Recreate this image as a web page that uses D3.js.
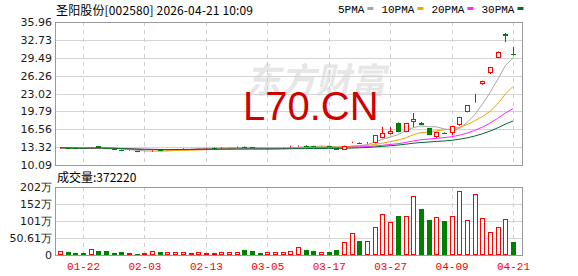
<!DOCTYPE html>
<html lang="zh">
<head>
<meta charset="UTF-8">
<title>圣阳股份 日K</title>
<style>
  body { margin: 0; background: #fff; }
  svg { display: block; }
</style>
</head>
<body>
<script src="https://cdnjs.cloudflare.com/ajax/libs/d3/7.8.5/d3.min.js"></script>
<script>
// trading days shown (MM-DD)
const dates = [
  '01-19','01-20','01-21','01-22','01-23','01-26','01-27','01-28','01-29','01-30',
  '02-02','02-03','02-04','02-05','02-06','02-09','02-10','02-11','02-12','02-13',
  '02-24','02-25','02-26','02-27','03-02','03-03','03-04','03-05','03-06','03-09',
  '03-10','03-11','03-12','03-13','03-16','03-17','03-18','03-19','03-20','03-23',
  '03-24','03-25','03-26','03-27','03-30','03-31','04-01','04-02','04-03','04-07',
  '04-08','04-09','04-10','04-13','04-14','04-15','04-16','04-17','04-20','04-21'
];
const opens = [
  13.15,13.22,13.14,13.10,13.15,13.45,13.15,13.00,12.85,12.55,
  12.55,12.50,12.60,12.72,12.70,12.88,13.00,13.05,13.10,13.12,
  13.25,13.18,13.22,13.30,13.38,13.28,12.88,13.00,13.10,13.15,
  13.30,13.50,13.60,13.55,13.45,13.48,13.00,12.85,13.95,14.10,
  14.05,14.05,14.97,15.70,17.69,16.06,17.87,17.69,16.78,15.15,
  15.95,15.88,17.33,19.68,23.08,24.74,26.73,29.45,33.70,30.17
];
const closes = [
  13.20,13.15,13.10,13.05,13.25,13.18,13.05,12.95,12.62,12.65,
  12.45,12.55,12.70,12.65,12.80,12.95,13.05,13.10,13.15,13.18,
  13.20,13.24,13.28,13.40,13.30,13.15,12.95,13.05,13.15,13.20,
  13.40,13.60,13.55,13.45,13.50,13.40,12.95,13.55,14.10,14.05,
  14.12,15.45,15.88,16.24,16.06,17.69,18.41,17.33,15.52,16.06,
  15.88,17.15,18.77,20.90,23.15,25.30,27.82,30.60,33.40,29.99
];
const highs = [
  13.25,13.25,13.18,13.12,13.30,13.50,13.18,13.05,12.88,12.75,
  12.58,12.60,12.75,12.75,12.85,13.00,13.12,13.15,13.18,13.22,
  13.28,13.28,13.32,13.45,13.42,13.30,13.00,13.10,13.18,13.25,
  13.55,13.65,13.65,13.58,13.55,13.50,13.20,13.60,14.30,14.20,
  14.25,15.50,17.00,16.95,17.80,17.72,19.50,17.87,16.80,16.10,
  16.00,17.20,18.80,20.95,23.15,25.35,27.85,30.65,33.97,31.44
];
const lows = [
  13.10,13.12,13.05,13.00,13.10,13.15,13.00,12.90,12.60,12.45,
  12.40,12.48,12.58,12.60,12.68,12.85,12.95,13.00,13.08,13.10,
  13.15,13.15,13.20,13.28,13.25,13.10,12.85,12.95,13.05,13.12,
  13.25,13.45,13.50,13.40,13.40,13.35,12.80,12.80,13.90,13.95,
  14.00,14.00,14.90,15.60,16.00,16.00,16.96,17.30,15.50,14.97,
  15.70,15.52,17.20,19.60,21.35,24.60,26.55,29.40,32.34,29.90
];
// volume in 万手
const volumes = [
  11.9,8.9,6.0,6.0,16.8,11.9,11.9,6.0,8.9,6.0,
  3.0,6.0,11.9,8.9,8.9,8.9,8.9,6.0,8.9,6.0,
  6.0,8.9,8.9,8.9,14.9,11.9,6.0,8.9,8.9,8.9,
  11.9,22.9,14.9,11.9,8.0,8.9,14.9,37.7,64.5,41.7,
  41.7,82.4,121,99,116,116,175.6,136,104,112,
  101,116,189.6,103,180.7,109,67.6,82.4,106,37.222
];

const priceTicks = [10.09,13.32,16.56,19.79,23.02,26.26,29.49,32.73,35.96];
const volTicks = [0,50.61,101.22,151.83,202.44];
const volTickLabels = ['0','50.61万','101万','152万','202万'];
const xTickLabels = ['01-22','02-03','02-13','03-05','03-17','03-27','04-09','04-21'];

const maPeriods = [5,10,20,30];
const maNames = ['5PMA','10PMA','20PMA','30PMA'];
const maColors = ['#a6a6a6','#f5a000','#ff22ff','#006b2e'];

const red = '#ff0000', green = '#008000';

const width = 578, height = 276;
const left = 55, right = 522;
const kTop = 22, kBottom = 165;
const vTop = 187, vBottom = 255;

const svg = d3.select('body').append('svg')
  .attr('width', width)
  .attr('height', height);

const x = d3.scalePoint().domain(dates).range([60, 513]);
const y = d3.scaleLinear().domain([10.09, 35.96]).range([kBottom, kTop]);
const yv = d3.scaleLinear().domain([0, 202.44]).range([vBottom, vTop]);

const px = v => Math.round(v) + 0.5;

// watermark
svg.append('text')
  .attr('transform', 'translate(246,93) skewX(-12)')
  .attr('font-family', 'Noto Sans CJK SC')
  .attr('font-weight', 'bold')
  .attr('font-size', 35)
  .attr('fill', '#e6e6e6')
  .text('东方财富');

// grid
const grid = svg.append('g');
priceTicks.slice(1, -1).forEach(t => {
  grid.append('line').attr('x1', left).attr('x2', right)
    .attr('y1', px(y(t))).attr('y2', px(y(t)))
    .attr('stroke', '#d4d4d4');
});
volTicks.slice(1, -1).forEach(t => {
  grid.append('line').attr('x1', left).attr('x2', right)
    .attr('y1', px(yv(t))).attr('y2', px(yv(t)))
    .attr('stroke', '#d4d4d4');
});
xTickLabels.forEach(d => {
  [[kTop, kBottom], [vTop, vBottom]].forEach(r => {
    grid.append('line').attr('x1', px(x(d))).attr('x2', px(x(d)))
      .attr('y1', r[0]).attr('y2', r[1])
      .attr('stroke', '#cfcfcf').attr('stroke-dasharray', '4,4');
  });
});

svg.append('text')
  .attr('x', 243).attr('y', 120)
  .attr('font-family', 'Liberation Sans')
  .attr('font-size', 40)
  .attr('fill', '#d10000')
  .text('L70.CN');

// frames
svg.append('rect').attr('x', left + 0.5).attr('y', kTop + 0.5)
  .attr('width', right - left).attr('height', kBottom - kTop)
  .attr('fill', 'none').attr('stroke', '#9a9a9a');
svg.append('rect').attr('x', left + 0.5).attr('y', vTop + 0.5)
  .attr('width', right - left).attr('height', vBottom - vTop)
  .attr('fill', 'none').attr('stroke', '#9a9a9a');

// y axes
const yAxis = svg.append('g')
  .attr('transform', `translate(${left},0)`)
  .call(d3.axisLeft(y).tickValues(priceTicks).tickFormat(d3.format('.2f')).tickSize(0).tickPadding(3));
const vAxis = svg.append('g')
  .attr('transform', `translate(${left},0)`)
  .call(d3.axisLeft(yv).tickValues(volTicks).tickFormat((d, i) => volTickLabels[i]).tickSize(0).tickPadding(3));
[yAxis, vAxis].forEach(g => {
  g.select('.domain').remove();
  g.selectAll('text')
    .attr('font-family', 'DejaVu Sans')
    .attr('font-size', 11)
    .attr('fill', '#1a1a1a');
});

// x axis
const xAxis = svg.append('g')
  .attr('transform', `translate(0,${vBottom})`)
  .call(d3.axisBottom(x).tickValues(xTickLabels).tickSize(0).tickPadding(7));
xAxis.select('.domain').remove();
xAxis.selectAll('text')
  .attr('font-family', 'Liberation Mono')
  .attr('font-size', 11)
  .attr('fill', red);

// moving averages
maPeriods.forEach((n, k) => {
  const ma = closes.map((c, i) => {
    const w = closes.slice(Math.max(0, i - n + 1), i + 1);
    return d3.mean(w);
  });
  svg.append('path')
    .datum(ma)
    .attr('fill', 'none')
    .attr('stroke', maColors[k])
    .attr('stroke-width', 1)
    .attr('d', d3.line().x((d, i) => x(dates[i])).y(d => y(d)));
});

// candles
const candles = svg.append('g');
dates.forEach((d, i) => {
  const cx = px(x(d));
  const o = opens[i], c = closes[i];
  const up = c >= o;
  const col = up ? red : green;
  const top = Math.round(y(Math.max(o, c)));
  const bot = Math.max(Math.round(y(Math.min(o, c))), top + 1);
  candles.append('line').attr('x1', cx).attr('x2', cx)
    .attr('y1', y(highs[i])).attr('y2', top)
    .attr('stroke', col);
  candles.append('line').attr('x1', cx).attr('x2', cx)
    .attr('y1', bot).attr('y2', y(lows[i]))
    .attr('stroke', col);
  if (up) {
    candles.append('rect')
      .attr('x', cx - 2).attr('y', top + 0.5)
      .attr('width', 4).attr('height', Math.max(bot - top - 1, 0))
      .attr('fill', '#fff').attr('stroke', col);
  } else {
    candles.append('rect')
      .attr('x', cx - 2.5).attr('y', top)
      .attr('width', 5).attr('height', Math.max(bot - top, 1))
      .attr('fill', col);
  }
});

// volume bars: colour by close vs previous close
const vols = svg.append('g');
dates.forEach((d, i) => {
  const cx = px(x(d));
  const up = i === 0 ? closes[i] >= opens[i] : closes[i] >= closes[i - 1];
  const top = Math.round(yv(volumes[i]));
  if (up) {
    vols.append('rect')
      .attr('x', cx - 2).attr('y', top + 0.5)
      .attr('width', 4).attr('height', vBottom - top - 1)
      .attr('fill', '#fff').attr('stroke', red);
  } else {
    vols.append('rect')
      .attr('x', cx - 2.5).attr('y', top)
      .attr('width', 5).attr('height', vBottom - top)
      .attr('fill', green);
  }
});

// header
svg.append('text')
  .attr('x', 56).attr('y', 15)
  .attr('font-family', 'Noto Sans CJK SC')
  .attr('font-size', 12)
  .attr('fill', '#000')
  .attr('textLength', 197)
  .text('圣阳股份[002580] 2026-04-21 10:09');

svg.append('text')
  .attr('x', 57).attr('y', 182)
  .attr('font-family', 'Noto Sans CJK SC')
  .attr('font-size', 12)
  .attr('fill', '#000')
  .text('成交量:' + Math.round(volumes[volumes.length - 1] * 10000));

// legend
let lx = 338;
maNames.forEach((name, k) => {
  const t = svg.append('text')
    .attr('x', lx).attr('y', 13)
    .attr('font-family', 'Liberation Mono')
    .attr('font-size', 11)
    .attr('fill', '#000')
    .text(name);
  lx += t.node().getComputedTextLength() + 3;
  svg.append('rect')
    .attr('x', lx).attr('y', 7)
    .attr('width', 6).attr('height', 3)
    .attr('fill', maColors[k]);
  lx += 6 + 8;
});
</script>
</body>
</html>
